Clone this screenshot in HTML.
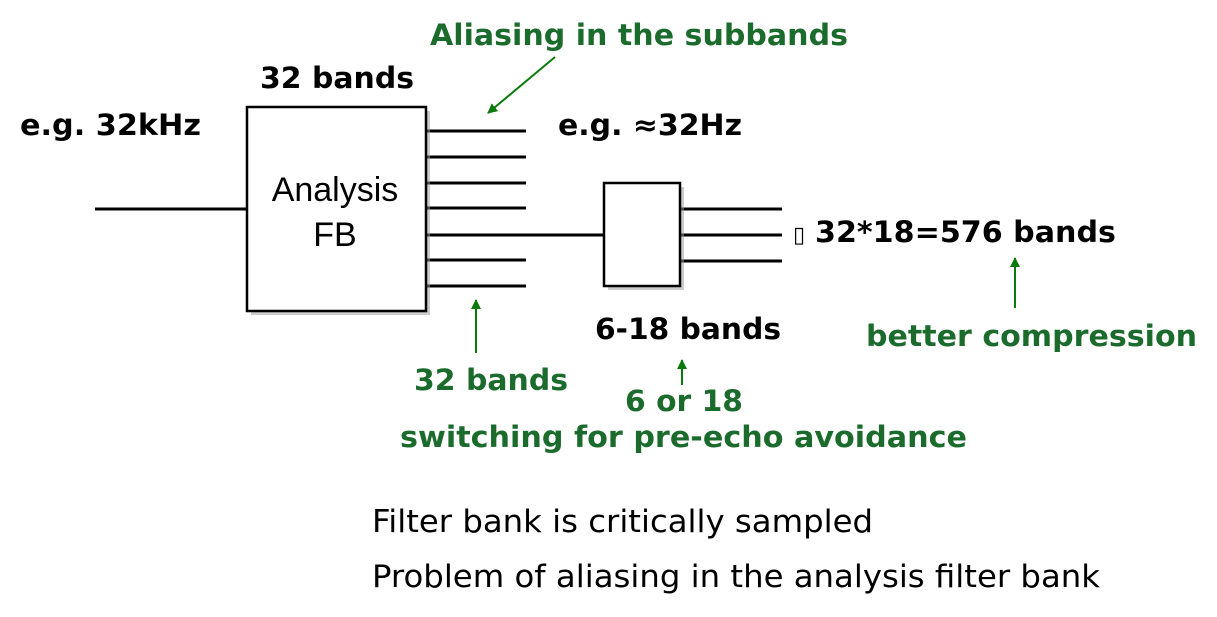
<!DOCTYPE html>
<html><head><meta charset="utf-8"><style>
body{margin:0;background:#fff;}
svg{display:block}
.b{font-family:"DejaVu Sans",sans-serif;font-weight:bold;font-size:29px;fill:#000}
.g{font-family:"DejaVu Sans",sans-serif;font-weight:bold;font-size:29px;fill:#1b6b2c}
.r{font-family:"DejaVu Sans",sans-serif;font-size:31px;fill:#000}
</style></head><body>
<svg width="1217" height="617" viewBox="0 0 1217 617">
<defs><marker id="a" markerWidth="10" markerHeight="10" refX="9" refY="5" orient="auto" markerUnits="userSpaceOnUse"><path d="M0,0 L10,5 L0,10 z" fill="#0a7a0a"/></marker></defs>
<g stroke="#000" stroke-width="3" fill="none">
<line x1="95" y1="209" x2="247" y2="209"/>
<line x1="426" y1="131" x2="526" y2="131"/>
<line x1="426" y1="157" x2="526" y2="157"/>
<line x1="426" y1="183" x2="526" y2="183"/>
<line x1="426" y1="208" x2="526" y2="208"/>
<line x1="426" y1="235" x2="604" y2="235"/>
<line x1="426" y1="260" x2="526" y2="260"/>
<line x1="426" y1="286" x2="526" y2="286"/>
<line x1="680" y1="209" x2="782" y2="209"/>
<line x1="680" y1="235" x2="782" y2="235"/>
<line x1="680" y1="261" x2="782" y2="261"/>
</g>
<rect x="251" y="111" width="179" height="204" fill="#999" opacity="0.5"/>
<rect x="247" y="107" width="179" height="204" fill="#fff" stroke="#000" stroke-width="2.5"/>
<rect x="608" y="187" width="76" height="103" fill="#999" opacity="0.5"/>
<rect x="604" y="183" width="76" height="103" fill="#fff" stroke="#000" stroke-width="2.5"/>
<text x="335" y="201" text-anchor="middle" font-family="Liberation Sans,sans-serif" font-size="34">Analysis</text>
<text x="335" y="246" text-anchor="middle" font-family="Liberation Sans,sans-serif" font-size="34">FB</text>
<g stroke="#0a7a0a" stroke-width="2" fill="none" marker-end="url(#a)">
<line x1="555" y1="57" x2="488" y2="113"/>
<line x1="476" y1="353" x2="476" y2="300"/>
<line x1="682" y1="385" x2="682" y2="360"/>
<line x1="1015" y1="308" x2="1015" y2="258"/>
</g>
<text class="b" x="20" y="135" textLength="181" lengthAdjust="spacingAndGlyphs">e.g. 32kHz</text>
<text class="b" x="260" y="88" textLength="154" lengthAdjust="spacingAndGlyphs">32 bands</text>
<text class="g" x="430" y="45" textLength="418" lengthAdjust="spacingAndGlyphs">Aliasing in the subbands</text>
<text class="b" x="558" y="135" textLength="184" lengthAdjust="spacingAndGlyphs">e.g. ≈32Hz</text>
<text class="b" x="793" y="242"><tspan font-weight="normal" font-size="22">▯</tspan></text>
<text class="b" x="815" y="242" textLength="301" lengthAdjust="spacingAndGlyphs">32*18=576 bands</text>
<text class="b" x="595" y="339" textLength="186" lengthAdjust="spacingAndGlyphs">6-18 bands</text>
<text class="g" x="866" y="346" textLength="331" lengthAdjust="spacingAndGlyphs">better compression</text>
<text class="g" x="414" y="390" textLength="154" lengthAdjust="spacingAndGlyphs">32 bands</text>
<text class="g" x="625" y="411" textLength="118" lengthAdjust="spacingAndGlyphs">6 or 18</text>
<text class="g" x="400" y="447" textLength="567" lengthAdjust="spacingAndGlyphs">switching for pre-echo avoidance</text>
<text class="r" x="372" y="532" textLength="501" lengthAdjust="spacingAndGlyphs">Filter bank is critically sampled</text>
<text class="r" x="372" y="587" textLength="728" lengthAdjust="spacingAndGlyphs">Problem of aliasing in the analysis filter bank</text>
</svg>
</body></html>
